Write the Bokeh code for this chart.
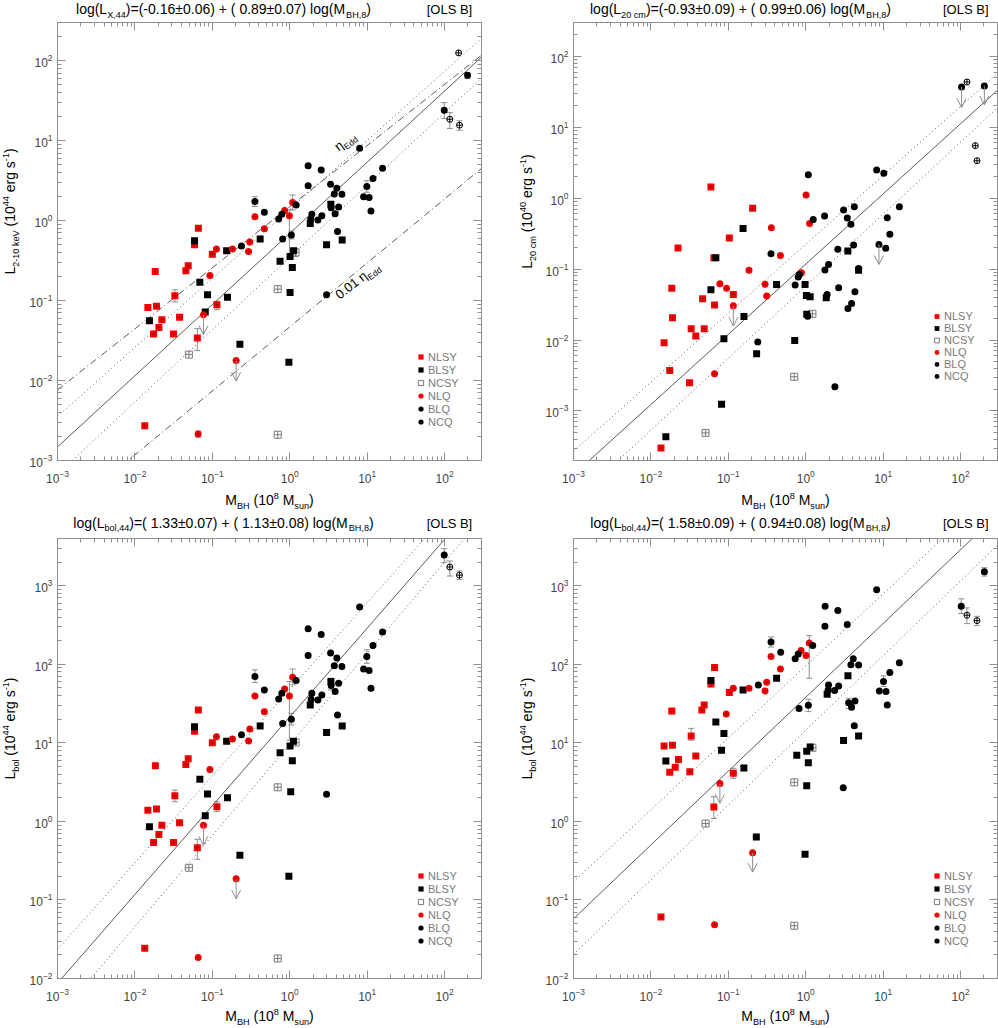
import math

from bokeh.embed import file_html
from bokeh.layouts import column, row
from bokeh.models import (Arrow, ColumnDataSource, CustomJSTickFormatter, FixedTicker,
                          Label, Legend, LegendItem, LogAxis, OpenHead, Range1d,
                          TeeHead, Whisker)
from bokeh.plotting import figure
from bokeh.resources import INLINE

# ---------------------------------------------------------------- data
# black hole mass in 1e8 Msun (M) and luminosity (L) per class

# panel 1: L(2-10 keV), 1e44 erg/s
X_NLSY_M = [0.0589, 0.066, 0.100, 0.0134, 0.064, 0.1146, 0.0328, 0.0377, 0.0315, 0.0223,
            0.0204, 0.0174, 0.019, 0.0147, 0.0183, 0.0455, 0.0488]
X_NLSY_L = [0.50, 0.80, 0.38, 0.00272, 0.034, 0.0887, 0.115, 0.0617, 0.0382, 0.0577,
            0.0462, 0.0382, 0.0846, 0.082, 0.231, 0.236, 0.272]
X_BLSY_M = [0.0589, 0.153, 0.415, 0.75, 1.01, 1.12, 1.08, 1.01, 0.975, 0.227, 0.081, 0.157,
            0.0867, 0.069, 0.0154, 1.84, 3.40, 4.76, 2.99]
X_BLSY_L = [0.56, 0.42, 0.59, 0.31, 0.356, 0.42, 0.26, 0.126, 0.0169, 0.0284, 0.0719, 0.11,
            0.118, 0.169, 0.056, 0.92, 1.60, 0.57, 0.50]
X_NCSY_M = [1.19, 0.70, 0.70, 0.0498]
X_NCSY_L = [0.40, 0.139, 0.0021, 0.0211]
X_NLQ_M = [1.09, 0.86, 0.99, 0.355, 0.47, 0.305, 0.294, 0.182, 0.113, 0.093, 0.0769, 0.203, 0.0656]
X_NLQ_L = [1.68, 1.34, 1.15, 1.12, 0.79, 0.54, 0.41, 0.44, 0.44, 0.206, 0.0666, 0.0178, 0.00214]
X_BLQ_M = [198, 99, 8.0, 1.73, 2.55, 1.73, 3.37, 4.06, 3.76, 4.72, 15.8, 11.9, 9.9, 9.0, 10.6,
           11.2, 3.43, 4.28, 3.86, 4.14, 2.60, 2.31, 1.93, 1.87, 1.21, 1.05, 0.81, 0.72, 0.79,
           0.355, 0.47, 0.238, 2.99]
X_BLQ_L = [65.6, 24.0, 8.0, 4.85, 4.3, 2.73, 2.84, 2.53, 2.15, 2.13, 4.5, 3.37, 2.66, 1.99, 1.95,
           1.32, 1.45, 1.48, 1.22, 0.73, 1.15, 1.02, 1.20, 1.05, 1.57, 0.66, 0.59, 1.05, 1.20,
           1.73, 1.27, 0.48, 0.118]
X_NCQ_M = [152, 117, 156]
X_NCQ_L = [125, 18.5, 15.6]
X_ERR_M = [0.355, 1.09, 0.99, 1.05, 3.40, 9.9, 99, 117, 156, 198, 1.19, 0.0328, 0.1146, 0.064, 0.0656]
X_ERR_LO = [1.50, 1.36, 0.356, 0.59, 1.36, 2.26, 18.9, 14.2, 13.5, 59.6, 0.356, 0.096, 0.077, 0.0237, 0.00196]
X_ERR_HI = [1.99, 2.09, 1.36, 0.74, 1.73, 3.16, 29.9, 22.4, 17.7, 70.8, 0.45, 0.136, 0.098, 0.0445, 0.00233]
X_UL_M = [0.0769, 0.203]
X_UL_FROM = [0.0666, 0.0178]
X_UL_TO = [0.0375, 0.0098]

# panel 2: L(20 cm), 1e40 erg/s
R_NLSY_M = [0.0596, 0.206, 0.103, 0.0224, 0.065, 0.0465, 0.0664, 0.116, 0.0186, 0.019, 0.0331,
            0.0488, 0.038, 0.0148, 0.0175, 0.0315, 0.0135]
R_NLSY_L = [1.44, 0.72, 0.274, 0.198, 0.145, 0.0382, 0.0311, 0.044, 0.0535, 0.0206, 0.0144,
            0.0144, 0.0114, 0.00914, 0.00372, 0.0025, 0.00030]
R_BLSY_M = [0.155, 0.069, 0.0596, 0.159, 0.0877, 0.0818, 0.0156, 0.42, 0.98, 1.02, 1.14, 1.03,
            0.72, 0.232, 1.84, 3.50, 4.82]
R_BLSY_L = [0.375, 0.145, 0.0512, 0.0215, 0.0104, 0.00124, 0.000433, 0.0608, 0.0608, 0.0425,
            0.0408, 0.023, 0.00986, 0.0064, 0.0395, 0.18, 0.096]
R_NCSY_M = [1.22, 0.71, 0.0508]
R_NCSY_L = [0.0234, 0.00303, 0.00049]
R_NLQ_M = [1.01, 1.12, 0.36, 0.471, 0.185, 0.0778, 0.095, 0.298, 0.313, 0.88, 0.116, 0.0664]
R_NLQ_L = [1.11, 0.44, 0.383, 0.156, 0.096, 0.0622, 0.0535, 0.061, 0.0417, 0.0889, 0.0304, 0.00334]
R_BLQ_M = [103, 203, 8.24, 10.2, 1.08, 1.75, 1.25, 3.08, 4.24, 3.44, 3.83, 11.3, 16.2, 12.2,
           8.83, 10.8, 2.60, 4.15, 0.356, 0.73, 0.80, 0.83, 1.06, 0.24, 2.38, 1.77, 1.97, 1.89,
           2.66, 4.32, 3.91, 3.51, 4.82]
R_BLQ_L = [36.9, 38.2, 2.49, 2.24, 2.14, 0.56, 0.50, 0.68, 0.76, 0.525, 0.43, 0.53, 0.76, 0.31,
           0.223, 0.196, 0.19, 0.218, 0.165, 0.0596, 0.0773, 0.0842, 0.0217, 0.00935, 0.00219,
           0.0968, 0.116, 0.044, 0.0546, 0.048, 0.0328, 0.0279, 0.102]
R_NCQ_M = [121, 155, 163]
R_NCQ_L = [43.5, 5.5, 3.37]
R_UL_M = [103, 203, 8.83, 0.116]
R_UL_FROM = [36.9, 38.2, 0.223, 0.0304]
R_UL_TO = [18.9, 20.6, 0.116, 0.0157]

# panel 3: L(bol), 1e44 erg/s
B1_NLSY_M = [0.0589, 0.066, 0.100, 0.0184, 0.0455, 0.0488, 0.0328, 0.1146, 0.0147, 0.019,
             0.0223, 0.0204, 0.0174, 0.0377, 0.0315, 0.064, 0.0134]
B1_NLSY_L = [14.1, 26.2, 10.0, 5.1, 5.3, 6.3, 2.12, 1.54, 1.39, 1.44, 0.895, 0.68, 0.537, 0.96,
             0.537, 0.463, 0.0242]
B1_BLSY_M = [0.0589, 0.153, 0.415, 0.75, 1.01, 1.12, 1.08, 1.84, 3.40, 4.76, 2.99, 0.069,
             0.0867, 0.157, 0.081, 0.0154, 0.227, 0.975, 1.03]
B1_BLSY_L = [16.0, 10.5, 16.4, 7.5, 9.1, 10.5, 5.9, 30.4, 60.4, 16.4, 13.6, 3.43, 2.23, 2.0,
             1.18, 0.853, 0.37, 0.20, 2.39]
B1_NCSY_M = [1.19, 0.0498, 0.70, 0.70]
B1_NCSY_L = [10.1, 0.257, 2.72, 0.018]
B1_NLQ_M = [1.09, 0.86, 0.99, 0.355, 0.47, 0.305, 0.294, 0.182, 0.113, 0.093, 0.0769, 0.203, 0.0656]
B1_NLQ_L = [68.6, 48.4, 39.4, 39.6, 24.9, 15.0, 10.6, 11.2, 12.0, 4.57, 0.895, 0.186, 0.0185]
B1_BLQ_M = [99, 8.0, 1.73, 2.55, 1.73, 3.37, 4.06, 3.76, 4.72, 15.8, 11.9, 9.9, 9.0, 10.6, 11.2,
            3.43, 4.28, 3.86, 4.14, 2.60, 2.31, 1.93, 1.89, 1.21, 1.05, 0.81, 0.72, 0.79, 0.355,
            0.47, 0.238, 2.99]
B1_BLQ_L = [2466, 538, 284, 239, 130, 139, 120, 95.7, 94, 258, 174, 126, 87, 83.6, 49.6, 53.7,
            57.5, 45, 22.6, 40.7, 35.2, 42.9, 35.9, 62.2, 20.0, 17.7, 36.3, 42.9, 70, 47.2, 12.7, 2.21]
B1_NCQ_M = [117, 156]
B1_NCQ_L = [1734, 1368]
B1_ERR_M = [99, 117, 156, 9.9, 0.355, 1.09, 0.99, 1.05, 3.40, 0.0328, 0.1146, 0.064]
B1_ERR_LO = [1967, 1330, 1205, 103, 58.6, 54.7, 10.8, 16.9, 47.2, 1.78, 1.33, 0.329]
B1_ERR_HI = [2972, 2066, 1541, 153, 85, 87, 60.4, 23.8, 66.5, 2.5, 1.78, 0.593]
B1_UL_M = [0.0769, 0.203]
B1_UL_FROM = [0.895, 0.186]
B1_UL_TO = [0.497, 0.103]

# panel 4: L(bol), second estimate, 1e44 erg/s
B2_NLSY_M = [0.0664, 0.0596, 0.0488, 0.0455, 0.0186, 0.0331, 0.0148, 0.019, 0.0227, 0.0206,
             0.038, 0.0175, 0.0318, 0.116, 0.065, 0.103, 0.0135]
B2_NLSY_L = [91.2, 56.3, 30.4, 26.2, 25.5, 12.2, 9.1, 9.35, 6.15, 4.9, 6.8, 4.22, 4.3, 4.1,
             1.53, 43.7, 0.0608]
B2_BLSY_M = [0.0596, 0.069, 0.0877, 0.0818, 0.0156, 0.159, 0.155, 0.42, 3.51, 1.89, 3.08, 4.82,
             0.766, 1.03, 1.14, 1.08, 1.03, 0.23, 0.98]
B2_BLSY_L = [62.2, 18.4, 13.2, 8.07, 5.87, 4.78, 47.2, 66.5, 71.3, 41.6, 10.7, 12.2, 6.96, 7.8,
             8.85, 5.6, 2.85, 0.635, 0.381]
B2_NCSY_M = [1.22, 0.0508, 0.71, 0.71]
B2_NCSY_L = [8.67, 0.94, 3.14, 0.047]
B2_NLQ_M = [1.11, 1.01, 0.87, 0.356, 0.471, 0.313, 0.298, 0.185, 0.116, 0.094, 0.0778, 0.206, 0.0664]
B2_NLQ_L = [187, 130, 150, 126, 87, 59, 45.9, 49.6, 49.6, 23.3, 3.05, 0.40, 0.0485]
B2_BLQ_M = [203, 102, 8.24, 1.78, 2.60, 1.77, 3.44, 16.2, 12.2, 10.1, 8.93, 10.9, 11.3, 4.11,
            3.83, 4.82, 2.66, 2.36, 1.97, 1.95, 3.58, 3.91, 4.32, 4.24, 0.82, 1.08, 1.23, 0.80,
            0.73, 0.356, 0.475, 0.244, 3.05]
B2_BLQ_L = [1510, 550, 889, 550, 484, 305, 321, 105, 78.7, 60.4, 45.9, 45.0, 30.4, 118, 98.6,
            97.7, 53.1, 46.4, 54.7, 47.2, 32.5, 28.4, 34.2, 16.5, 27.3, 30.1, 174, 135, 118, 192,
            143, 54.7, 2.69]
B2_NCQ_M = [121, 163]
B2_NCQ_L = [422, 360]
B2_ERR_M = [203, 102, 121, 163, 10.1, 3.58, 1.08, 0.356, 1.11, 0.0331, 0.116, 0.065]
B2_ERR_LO = [1330, 443, 330, 311, 52.1, 27.5, 25.0, 166, 66.5, 10.8, 3.54, 1.09]
B2_ERR_HI = [1698, 682, 523, 409, 71.3, 37.0, 35.9, 223, 232, 15.3, 4.75, 2.06]
B2_UL_M = [0.0778, 0.206]
B2_UL_FROM = [3.05, 0.40]
B2_UL_TO = [1.7, 0.226]

# OLS bisector fits log L = a + b log M, and the dotted lines around them
FIT_A = [-0.16, -0.93, 1.33, 1.58]
FIT_A_ERR = [0.06, 0.09, 0.07, 0.09]
FIT_B = [0.89, 0.99, 1.13, 0.94]
FIT_B_ERR = [0.07, 0.06, 0.08, 0.08]
UPPER_A = [0.14, -0.65, 1.68, 1.98]
UPPER_B = [0.863, 0.972, 1.103, 0.916]
LOWER_A = [-0.46, -1.24, 0.98, 1.16]
LOWER_B = [0.904, 1.015, 1.160, 0.951]
# Eddington-ratio lines of the X-ray panel
EDD_A = [0.175, -1.33]
EDD_B = [0.764, 0.80]

CLASSES = ["NLSY", "BLSY", "NCSY", "NLQ", "BLQ", "NCQ"]
M_RANGE = (1e-3, 300)
Y_RANGES = [(1e-3, 300), (2e-4, 300), (1e-2, 4000), (1e-2, 4000)]
LUM_SUB = ["X,44", "20 cm", "bol,44", "bol,44"]
YLAB_SUB = ["2-10 keV", "20 cm", "bol", "bol"]
YLAB_UNIT = ["44", "40", "44", "44"]

# ---------------------------------------------------------------- style
FONT = "Liberation Sans"
RED = "#ff0000"
GREY = "#8f8f8f"
LINE = "#5a5a5a"

STYLE = {
    "NLSY": dict(marker="square", size=7, fill_color=RED, line_color=None),
    "BLSY": dict(marker="square", size=7, fill_color="black", line_color=None),
    "NCSY": dict(marker="square", size=7, fill_color=None, line_color="#7a7a7a"),
    "NLQ": dict(marker="circle", size=7, fill_color=RED, line_color=None),
    "BLQ": dict(marker="circle", size=7, fill_color="black", line_color=None),
    "NCQ": dict(marker="circle", size=6, fill_color="white", line_color="black"),
}
CROSS = {
    "NLSY": dict(size=6, line_color="#5a0000", line_alpha=0.5, line_width=0.8),
    "NLQ": dict(size=6, line_color="#5a0000", line_alpha=0.5, line_width=0.8),
    "NCSY": dict(size=7, line_color="#7a7a7a", line_width=1),
    "NCQ": dict(size=6, line_color="black", line_width=1),
}

# Arial / Liberation Sans advance widths (1/1000 em)
W = {" ": 278, "(": 333, ")": 333, "+": 584, ",": 278, "-": 333, ".": 278, "=": 584,
     "[": 278, "]": 278, "±": 584, "B": 667, "E": 667, "H": 722, "L": 556, "M": 833,
     "O": 778, "S": 667, "V": 667, "X": 667, "b": 556, "c": 500, "d": 556, "e": 556,
     "g": 556, "k": 500, "l": 222, "m": 833, "n": 556, "o": 556, "r": 333, "s": 500,
     "u": 556, "η": 556}
SCALE = {"n": 1.0, "sub": 0.65, "sup": 0.65}
SHIFT = {"n": 0.0, "sub": -0.28, "sup": 0.45}
BASE_FIX = 0.36   # labels sit this much (in em) below their anchor


def text_width(s, size):
    return sum(W.get(ch, 556) for ch in s) * size / 1000.0


def rich(p, parts, x, y, size, align="left", angle=0.0, units="screen", color="black"):
    """Text with sub/superscripts, built from several plain labels; (x, y) is the baseline."""
    widths = [text_width(t, size * SCALE[k]) for t, k in parts]
    total = sum(widths)
    pos = {"left": 0.0, "center": -total / 2, "right": -total}[align]
    c, s = math.cos(angle), math.sin(angle)
    for (t, k), w in zip(parts, widths):
        fs = size * SCALE[k]
        lead = len(t) - len(t.lstrip(" "))
        start = pos + text_width(" " * lead, fs)
        sh = SHIFT[k] * size + BASE_FIX * fs
        p.add_layout(Label(x=x, y=y, x_units=units, y_units=units,
                           x_offset=start * c - sh * s, y_offset=start * s + sh * c,
                           text=t.strip(" "), angle=angle, text_font=FONT,
                           text_font_size=f"{fs:.1f}px", text_color=color,
                           text_align="left", text_baseline="alphabetic"))
        pos += w


def strip(width, height):
    s = figure(width=width, height=height, x_range=Range1d(0, 1), y_range=Range1d(0, 1),
               toolbar_location=None, output_backend="svg", x_axis_location=None,
               y_axis_location=None, min_border=0)
    s.grid.visible = False
    s.outline_line_color = None
    return s


def log_ticks(lo, hi):
    major, minor = [], []
    for k in range(math.floor(math.log10(lo)) - 1, math.ceil(math.log10(hi)) + 1):
        for m in range(1, 10):
            v = m * 10.0 ** k
            if lo * 0.999 <= v <= hi * 1.001:
                (major if m == 1 else minor).append(v)
    return major, minor


def style_axis(ax, lo, hi, labels, standoff=6):
    major, minor = log_ticks(lo, hi)
    ax.ticker = FixedTicker(ticks=major, minor_ticks=minor)
    ax.axis_line_color = GREY
    ax.major_tick_line_color = GREY
    ax.minor_tick_line_color = GREY
    ax.major_tick_in, ax.major_tick_out = 8, 0
    ax.minor_tick_in, ax.minor_tick_out = 4, 0
    if labels:
        ax.major_label_text_font = FONT
        ax.major_label_text_font_size = "12px"
        ax.major_label_standoff = standoff
    else:
        ax.formatter = CustomJSTickFormatter(code="return ''")
        ax.major_label_text_font_size = "1px"
        ax.major_label_standoff = 0


def line_y(a, b):
    return [10 ** (a + b * math.log10(m)) for m in M_RANGE]


def make_panel(i, groups, errs, lims, width, height, borders, leg_y, leg_h):
    bl, br, bt, bb = borders
    ylo, yhi = Y_RANGES[i]
    p = figure(width=width, height=height, x_axis_type="log", y_axis_type="log",
               x_range=Range1d(*M_RANGE), y_range=Range1d(ylo, yhi),
               toolbar_location=None, output_backend="svg",
               min_border_left=bl, min_border_right=br, min_border_top=bt, min_border_bottom=bb)
    p.grid.visible = False
    p.outline_line_color = GREY
    top, right = LogAxis(), LogAxis()
    p.add_layout(top, "above")
    p.add_layout(right, "right")
    style_axis(p.below[0], *M_RANGE, True, standoff=9)
    style_axis(p.left[0], ylo, yhi, True, standoff=5)
    style_axis(top, *M_RANGE, False)
    style_axis(right, ylo, yhi, False)

    # relations
    p.line(list(M_RANGE), line_y(FIT_A[i], FIT_B[i]), line_color=LINE, line_width=1)
    for a, b in ((UPPER_A[i], UPPER_B[i]), (LOWER_A[i], LOWER_B[i])):
        p.line(list(M_RANGE), line_y(a, b), line_color=LINE, line_width=1, line_dash="1 3")
    if i == 0:
        for a, b in zip(EDD_A, EDD_B):
            p.line(list(M_RANGE), line_y(a, b), line_color=LINE, line_width=1,
                   line_dash="7 3 1 3")
        ang = math.radians(38)
        rich(p, [("η", "n"), ("Edd", "sub")], 4.3, 7.3, 13, angle=ang, units="data")
        rich(p, [("0.01 η", "n"), ("Edd", "sub")], 4.45, 0.102, 13, angle=ang, units="data")

    # error bars and upper limits
    if errs is not None:
        em, elo, ehi = errs
        p.add_layout(Whisker(source=ColumnDataSource(dict(x=em, lo=elo, hi=ehi)),
                             base="x", lower="lo", upper="hi", dimension="height",
                             line_color=GREY, line_width=1,
                             upper_head=TeeHead(size=6, line_color=GREY, line_width=1),
                             lower_head=TeeHead(size=6, line_color=GREY, line_width=1)))
    um, u0, u1 = lims
    p.add_layout(Arrow(source=ColumnDataSource(dict(x=um, y0=u0, y1=u1)),
                       x_start="x", y_start="y0", x_end="x", y_end="y1",
                       line_color=GREY, line_width=1,
                       end=OpenHead(size=9, line_color=GREY, line_width=1)))

    # points
    rend = {}
    for name in ["NCSY", "NLSY", "BLSY", "NLQ", "BLQ", "NCQ"]:
        m, l = groups[name]
        rend[name] = p.scatter(m, l, **STYLE[name])
        if name in CROSS:
            p.scatter(m, l, marker="cross", **CROSS[name])

    # legend (NCQ is shown with the filled black circle, as in the original)
    leg_r = dict(rend, NCQ=rend["BLQ"])
    legend = Legend(items=[LegendItem(label=n, renderers=[leg_r[n]]) for n in CLASSES],
                    location=(357, leg_y), glyph_width=13, glyph_height=leg_h,
                    label_height=leg_h, label_standoff=1, spacing=0, padding=0, margin=0,
                    border_line_alpha=0, background_fill_alpha=0, label_text_font=FONT,
                    label_text_font_size="11px", label_text_color="#7a7a7a")
    p.add_layout(legend)
    return p


def title_strip(i, width, height, cx, ols_x, base):
    s = strip(width, height)
    a, ae, b, be = FIT_A[i], FIT_A_ERR[i], FIT_B[i], FIT_B_ERR[i]
    rich(s, [("log(L", "n"), (LUM_SUB[i], "sub"),
             (f")=({a:5.2f}±{ae:.2f}) + ({b:5.2f}±{be:.2f}) log(M", "n"),
             ("BH,8", "sub"), (")", "n")], cx, base, 14, align="center")
    rich(s, [("[OLS B]", "n")], ols_x, base, 13, align="right")
    return s


def xlabel_strip(width, height, cx, base):
    s = strip(width, height)
    rich(s, [("M", "n"), ("BH", "sub"), (" (10", "n"), ("8", "sup"), (" M", "n"),
             ("sun", "sub"), (")", "n")], cx, base, 14, align="center")
    return s


def ylabel_strip(i, width, height, bx, cy):
    s = strip(width, height)
    rich(s, [("L", "n"), (YLAB_SUB[i], "sub"), (" (10", "n"), (YLAB_UNIT[i], "sup"),
             (" erg s", "n"), ("-1", "sup"), (")", "n")], bx, cy, 14,
         align="center", angle=math.pi / 2)
    return s


def block(i, groups, errs, lims, left, top_h, frame_h, bottom_h,
          title_base, xlab_base, leg_y, leg_h):
    # left column: y-label strip 21 px + plot 477 px; right column: 40 px + 460 px
    ylab_w, main_w, br, tx, ox, yb = ((21, 477, 17, 223, 471.7, 15) if left
                                      else (40, 460, 1, 242, 490, 34))
    bl = (57 if left else 75) - ylab_w
    bt, bb = 2, 28
    main_h = bt + frame_h + bb
    width = ylab_w + main_w
    p = make_panel(i, groups, errs, lims, main_w, main_h, (bl, br, bt, bb), leg_y, leg_h)
    yl = ylabel_strip(i, ylab_w, main_h, yb, bb + frame_h / 2 + 2)
    ts = title_strip(i, width, top_h, tx, ox, title_base)
    xs = xlabel_strip(width, bottom_h, ylab_w + bl + 212, xlab_base)
    return column(ts, row(yl, p), xs)


b1 = block(0, {"NLSY": (X_NLSY_M, X_NLSY_L), "BLSY": (X_BLSY_M, X_BLSY_L),
               "NCSY": (X_NCSY_M, X_NCSY_L), "NLQ": (X_NLQ_M, X_NLQ_L),
               "BLQ": (X_BLQ_M, X_BLQ_L), "NCQ": (X_NCQ_M, X_NCQ_L)},
           (X_ERR_M, X_ERR_LO, X_ERR_HI), (X_UL_M, X_UL_FROM, X_UL_TO),
           True, 20, 438, 23, 6.5, 6, 32, 13)
b2 = block(1, {"NLSY": (R_NLSY_M, R_NLSY_L), "BLSY": (R_BLSY_M, R_BLSY_L),
               "NCSY": (R_NCSY_M, R_NCSY_L), "NLQ": (R_NLQ_M, R_NLQ_L),
               "BLQ": (R_BLQ_M, R_BLQ_L), "NCQ": (R_NCQ_M, R_NCQ_L)},
           None, (R_UL_M, R_UL_FROM, R_UL_TO),
           False, 20, 438, 23, 6.5, 6, 78, 12)
b3 = block(2, {"NLSY": (B1_NLSY_M, B1_NLSY_L), "BLSY": (B1_BLSY_M, B1_BLSY_L),
               "NCSY": (B1_NCSY_M, B1_NCSY_L), "NLQ": (B1_NLQ_M, B1_NLQ_L),
               "BLQ": (B1_BLQ_M, B1_BLQ_L), "NCQ": (B1_NCQ_M, B1_NCQ_L)},
           (B1_ERR_M, B1_ERR_LO, B1_ERR_HI), (B1_UL_M, B1_UL_FROM, B1_UL_TO),
           True, 25, 440, 22, 8.7, 7, 31, 13)
b4 = block(3, {"NLSY": (B2_NLSY_M, B2_NLSY_L), "BLSY": (B2_BLSY_M, B2_BLSY_L),
               "NCSY": (B2_NCSY_M, B2_NCSY_L), "NLQ": (B2_NLQ_M, B2_NLQ_L),
               "BLQ": (B2_BLQ_M, B2_BLQ_L), "NCQ": (B2_NCQ_M, B2_NCQ_L)},
           (B2_ERR_M, B2_ERR_LO, B2_ERR_HI), (B2_UL_M, B2_UL_FROM, B2_UL_TO),
           False, 25, 440, 22, 8.7, 7, 31, 13)

layout = column(row(b1, b2), row(b3, b4))
open("out.html", "w").write(file_html(layout, INLINE))
